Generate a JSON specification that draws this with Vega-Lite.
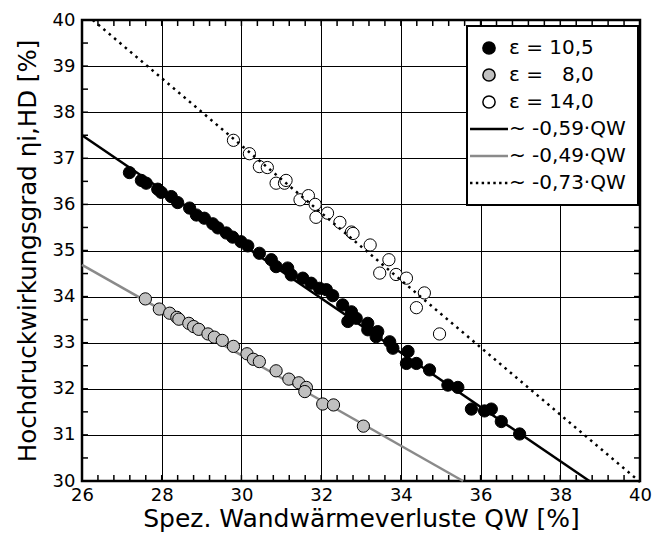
{
  "$schema": "https://vega.github.io/schema/vega-lite/v6.json",
  "width": 558,
  "height": 461,
  "autosize": {"type": "none"},
  "padding": {"left": 82, "top": 20, "right": 12, "bottom": 59},
  "background": "white",
  "config": {
    "font": "DejaVu Sans",
    "view": {"stroke": "#000", "strokeWidth": 2.5},
    "legend": {"strokeWidth": 2},
    "axis": {"labelFont": "DejaVu Sans", "titleFont": "DejaVu Sans", "labelColor": "#000", "titleColor": "#000", "titleFontWeight": "normal"}
  },
  "datasets": {
    "xticks": [
      {"v": 26.4}, {"v": 26.8}, {"v": 27.2}, {"v": 27.6}, {"v": 28}, {"v": 28.4}, {"v": 28.8}, {"v": 29.2}, {"v": 29.6}, {"v": 30},
      {"v": 30.4}, {"v": 30.8}, {"v": 31.2}, {"v": 31.6}, {"v": 32}, {"v": 32.4}, {"v": 32.8}, {"v": 33.2}, {"v": 33.6}, {"v": 34},
      {"v": 34.4}, {"v": 34.8}, {"v": 35.2}, {"v": 35.6}, {"v": 36}, {"v": 36.4}, {"v": 36.8}, {"v": 37.2}, {"v": 37.6}, {"v": 38},
      {"v": 38.4}, {"v": 38.8}, {"v": 39.2}, {"v": 39.6}
    ],
    "yticks": [
      {"v": 30.5}, {"v": 31}, {"v": 31.5}, {"v": 32}, {"v": 32.5}, {"v": 33}, {"v": 33.5}, {"v": 34}, {"v": 34.5}, {"v": 35},
      {"v": 35.5}, {"v": 36}, {"v": 36.5}, {"v": 37}, {"v": 37.5}, {"v": 38}, {"v": 38.5}, {"v": 39}, {"v": 39.5}
    ]
  },
  "layer": [
    {
      "data": {"values": [{"q": 26, "eta": 34.69}, {"q": 35.56, "eta": 30}]},
      "mark": {"type": "line", "color": "#8a8a8a", "strokeWidth": 2.5},
      "encoding": {
        "x": {"field": "q", "type": "quantitative", "scale": {"domain": [26, 40], "nice": false, "zero": false},
          "axis": {"orient": "bottom", "values": [26, 28, 30, 32, 34, 36, 38, 40], "grid": true, "gridColor": "#000", "gridWidth": 1, "ticks": false, "domain": false, "labelFontSize": 18, "labelPadding": 5, "labelFlush": false, "title": "Spez. Wandwärmeverluste QW [%]", "titleFontSize": 25, "titlePadding": 2}},
        "y": {"field": "eta", "type": "quantitative", "scale": {"domain": [30, 40], "nice": false, "zero": false},
          "axis": {"orient": "left", "values": [30, 31, 32, 33, 34, 35, 36, 37, 38, 39, 40], "grid": true, "gridColor": "#000", "gridWidth": 1, "ticks": false, "domain": false, "labelFontSize": 18, "labelPadding": 7, "labelFlush": false, "title": "Hochdruckwirkungsgrad ηi,HD [%]", "titleFontSize": 24.5, "titlePadding": 12}}
      }
    },
    {
      "data": {"name": "xticks"},
      "mark": {"type": "rule", "color": "#000", "strokeWidth": 1.5},
      "encoding": {
        "x": {"field": "v", "type": "quantitative"},
        "y": {"datum": 30, "type": "quantitative"},
        "y2": {"datum": 30.13}
      }
    },
    {
      "data": {"name": "xticks"},
      "mark": {"type": "rule", "color": "#000", "strokeWidth": 1.5},
      "encoding": {
        "x": {"field": "v", "type": "quantitative"},
        "y": {"datum": 40, "type": "quantitative"},
        "y2": {"datum": 39.87}
      }
    },
    {
      "data": {"name": "yticks"},
      "mark": {"type": "rule", "color": "#000", "strokeWidth": 1.5},
      "encoding": {
        "y": {"field": "v", "type": "quantitative"},
        "x": {"datum": 26, "type": "quantitative"},
        "x2": {"datum": 26.15}
      }
    },
    {
      "data": {"name": "yticks"},
      "mark": {"type": "rule", "color": "#000", "strokeWidth": 1.5},
      "encoding": {
        "y": {"field": "v", "type": "quantitative"},
        "x": {"datum": 40, "type": "quantitative"},
        "x2": {"datum": 39.85}
      }
    },
    {
      "data": {"values": [
        {"series": "ε = 10,5", "q": 27.19, "eta": 36.69},
        {"series": "ε = 10,5", "q": 27.49, "eta": 36.52},
        {"series": "ε = 10,5", "q": 27.61, "eta": 36.46},
        {"series": "ε = 10,5", "q": 27.90, "eta": 36.33},
        {"series": "ε = 10,5", "q": 27.99, "eta": 36.26},
        {"series": "ε = 10,5", "q": 28.24, "eta": 36.17},
        {"series": "ε = 10,5", "q": 28.40, "eta": 36.04},
        {"series": "ε = 10,5", "q": 28.70, "eta": 35.92},
        {"series": "ε = 10,5", "q": 28.87, "eta": 35.77},
        {"series": "ε = 10,5", "q": 29.07, "eta": 35.70},
        {"series": "ε = 10,5", "q": 29.28, "eta": 35.58},
        {"series": "ε = 10,5", "q": 29.41, "eta": 35.49},
        {"series": "ε = 10,5", "q": 29.62, "eta": 35.38},
        {"series": "ε = 10,5", "q": 29.78, "eta": 35.29},
        {"series": "ε = 10,5", "q": 29.99, "eta": 35.19},
        {"series": "ε = 10,5", "q": 30.16, "eta": 35.10},
        {"series": "ε = 10,5", "q": 30.45, "eta": 34.94},
        {"series": "ε = 10,5", "q": 30.75, "eta": 34.80},
        {"series": "ε = 10,5", "q": 30.87, "eta": 34.65},
        {"series": "ε = 10,5", "q": 31.16, "eta": 34.62},
        {"series": "ε = 10,5", "q": 31.25, "eta": 34.47},
        {"series": "ε = 10,5", "q": 31.54, "eta": 34.40},
        {"series": "ε = 10,5", "q": 31.75, "eta": 34.29},
        {"series": "ε = 10,5", "q": 31.96, "eta": 34.18},
        {"series": "ε = 10,5", "q": 32.13, "eta": 34.15},
        {"series": "ε = 10,5", "q": 32.29, "eta": 34.02},
        {"series": "ε = 10,5", "q": 32.54, "eta": 33.82},
        {"series": "ε = 10,5", "q": 32.76, "eta": 33.67},
        {"series": "ε = 10,5", "q": 32.67, "eta": 33.46},
        {"series": "ε = 10,5", "q": 32.88, "eta": 33.53},
        {"series": "ε = 10,5", "q": 33.17, "eta": 33.42},
        {"series": "ε = 10,5", "q": 33.17, "eta": 33.28},
        {"series": "ε = 10,5", "q": 33.42, "eta": 33.24},
        {"series": "ε = 10,5", "q": 33.38, "eta": 33.13},
        {"series": "ε = 10,5", "q": 33.72, "eta": 33.02},
        {"series": "ε = 10,5", "q": 33.80, "eta": 32.88},
        {"series": "ε = 10,5", "q": 34.18, "eta": 32.81},
        {"series": "ε = 10,5", "q": 34.14, "eta": 32.55},
        {"series": "ε = 10,5", "q": 34.39, "eta": 32.55},
        {"series": "ε = 10,5", "q": 34.72, "eta": 32.41},
        {"series": "ε = 10,5", "q": 35.18, "eta": 32.08},
        {"series": "ε = 10,5", "q": 35.43, "eta": 32.03},
        {"series": "ε = 10,5", "q": 35.77, "eta": 31.56},
        {"series": "ε = 10,5", "q": 36.10, "eta": 31.52},
        {"series": "ε = 10,5", "q": 36.27, "eta": 31.56},
        {"series": "ε = 10,5", "q": 36.52, "eta": 31.29},
        {"series": "ε = 10,5", "q": 36.98, "eta": 31.02},
        {"series": "ε = \u20078,0", "q": 27.59, "eta": 33.95},
        {"series": "ε = \u20078,0", "q": 27.94, "eta": 33.73},
        {"series": "ε = \u20078,0", "q": 28.20, "eta": 33.64},
        {"series": "ε = \u20078,0", "q": 28.38, "eta": 33.55},
        {"series": "ε = \u20078,0", "q": 28.43, "eta": 33.51},
        {"series": "ε = \u20078,0", "q": 28.68, "eta": 33.42},
        {"series": "ε = \u20078,0", "q": 28.80, "eta": 33.35},
        {"series": "ε = \u20078,0", "q": 28.93, "eta": 33.29},
        {"series": "ε = \u20078,0", "q": 29.16, "eta": 33.19},
        {"series": "ε = \u20078,0", "q": 29.32, "eta": 33.12},
        {"series": "ε = \u20078,0", "q": 29.52, "eta": 33.05},
        {"series": "ε = \u20078,0", "q": 29.80, "eta": 32.92},
        {"series": "ε = \u20078,0", "q": 30.14, "eta": 32.76},
        {"series": "ε = \u20078,0", "q": 30.30, "eta": 32.64},
        {"series": "ε = \u20078,0", "q": 30.45, "eta": 32.59},
        {"series": "ε = \u20078,0", "q": 30.87, "eta": 32.39},
        {"series": "ε = \u20078,0", "q": 31.19, "eta": 32.21},
        {"series": "ε = \u20078,0", "q": 31.44, "eta": 32.13},
        {"series": "ε = \u20078,0", "q": 31.63, "eta": 32.03},
        {"series": "ε = \u20078,0", "q": 31.59, "eta": 31.94},
        {"series": "ε = \u20078,0", "q": 32.04, "eta": 31.67},
        {"series": "ε = \u20078,0", "q": 32.31, "eta": 31.65},
        {"series": "ε = \u20078,0", "q": 33.06, "eta": 31.19},
        {"series": "ε = 14,0", "q": 29.80, "eta": 37.39},
        {"series": "ε = 14,0", "q": 30.20, "eta": 37.10},
        {"series": "ε = 14,0", "q": 30.45, "eta": 36.82},
        {"series": "ε = 14,0", "q": 30.65, "eta": 36.80},
        {"series": "ε = 14,0", "q": 30.87, "eta": 36.46},
        {"series": "ε = 14,0", "q": 31.08, "eta": 36.46},
        {"series": "ε = 14,0", "q": 31.12, "eta": 36.52},
        {"series": "ε = 14,0", "q": 31.47, "eta": 36.10},
        {"series": "ε = 14,0", "q": 31.68, "eta": 36.19},
        {"series": "ε = 14,0", "q": 31.85, "eta": 36.00},
        {"series": "ε = 14,0", "q": 31.87, "eta": 35.72},
        {"series": "ε = 14,0", "q": 32.16, "eta": 35.81},
        {"series": "ε = 14,0", "q": 32.47, "eta": 35.61},
        {"series": "ε = 14,0", "q": 32.76, "eta": 35.40},
        {"series": "ε = 14,0", "q": 32.80, "eta": 35.37},
        {"series": "ε = 14,0", "q": 33.23, "eta": 35.12},
        {"series": "ε = 14,0", "q": 33.70, "eta": 34.80},
        {"series": "ε = 14,0", "q": 33.47, "eta": 34.51},
        {"series": "ε = 14,0", "q": 33.88, "eta": 34.48},
        {"series": "ε = 14,0", "q": 34.14, "eta": 34.40},
        {"series": "ε = 14,0", "q": 34.59, "eta": 34.08},
        {"series": "ε = 14,0", "q": 34.39, "eta": 33.76},
        {"series": "ε = 14,0", "q": 34.97, "eta": 33.19}
      ]},
      "mark": {"type": "point", "filled": true, "opacity": 1, "size": 150, "strokeWidth": 1},
      "encoding": {
        "x": {"field": "q", "type": "quantitative"},
        "y": {"field": "eta", "type": "quantitative"},
        "shape": {"field": "series", "type": "nominal",
          "scale": {"domain": ["ε = 10,5", "ε = \u20078,0", "ε = 14,0", "~ -0,59·QW", "~ -0,49·QW", "~ -0,73·QW"],
                    "range": ["circle", "circle", "circle", "M-3.1,-0.2L3.1,-0.2L3.1,0.2L-3.1,0.2Z", "M-3.1,-0.2L3.1,-0.2L3.1,0.2L-3.1,0.2Z", "M-3.1,-0.2h0.4v0.4h-0.4ZM-2.15,-0.2h0.4v0.4h-0.4ZM-1.2,-0.2h0.4v0.4h-0.4ZM-0.25,-0.2h0.4v0.4h-0.4ZM0.7,-0.2h0.4v0.4h-0.4ZM1.65,-0.2h0.4v0.4h-0.4ZM2.6,-0.2h0.4v0.4h-0.4Z"]},
          "legend": {"orient": "none", "legendX": 385, "legendY": 6, "title": null, "labelFont": "DejaVu Sans", "labelFontSize": 20, "labelColor": "#000", "symbolSize": 150, "strokeColor": "#000", "fillColor": "white", "padding": 12, "rowPadding": 7, "labelOffset": 10, "labelLimit": 300}},
        "fill": {"field": "series", "type": "nominal",
          "scale": {"domain": ["ε = 10,5", "ε = \u20078,0", "ε = 14,0", "~ -0,59·QW", "~ -0,49·QW", "~ -0,73·QW"],
                    "range": ["#000000", "#c0c0c0", "#ffffff", "#000000", "#8a8a8a", "#000000"]}},
        "stroke": {"field": "series", "type": "nominal",
          "scale": {"domain": ["ε = 10,5", "ε = \u20078,0", "ε = 14,0", "~ -0,59·QW", "~ -0,49·QW", "~ -0,73·QW"],
                    "range": ["#000000", "#000000", "#000000", "transparent", "transparent", "transparent"]}}
      }
    },
    {
      "data": {"values": [{"q": 26, "eta": 37.5}, {"q": 38.73, "eta": 30}]},
      "mark": {"type": "line", "color": "#000000", "strokeWidth": 2.5},
      "encoding": {
        "x": {"field": "q", "type": "quantitative"},
        "y": {"field": "eta", "type": "quantitative"}
      }
    },
    {
      "data": {"values": [{"q": 26.27, "eta": 40}, {"q": 40, "eta": 29.98}]},
      "mark": {"type": "line", "color": "#000000", "strokeWidth": 2.5, "strokeDash": [2.5, 4.5], "strokeCap": "butt"},
      "encoding": {
        "x": {"field": "q", "type": "quantitative"},
        "y": {"field": "eta", "type": "quantitative"}
      }
    }
  ]
}
